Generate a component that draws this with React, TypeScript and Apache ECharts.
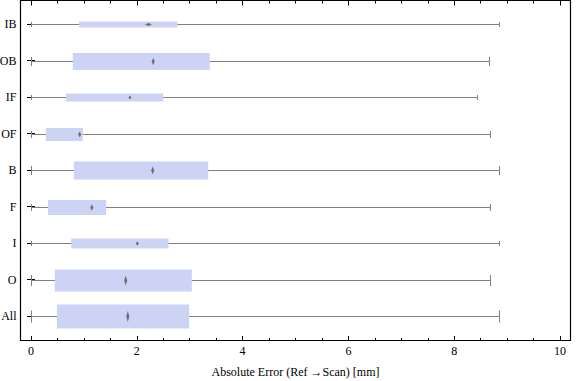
import React, { useEffect, useRef } from "react";
import * as echarts from "echarts";

// bottom-to-top order
const categories = ["All", "O", "I", "F", "B", "OF", "IF", "OB", "IB"];
const minVals = [0, 0, 0, 0, 0, 0, 0, 0, 0];
const q1Vals = [0.49, 0.45, 0.76, 0.32, 0.81, 0.28, 0.66, 0.79, 0.91];
const medVals = [1.83, 1.79, 2.01, 1.15, 2.3, 0.92, 1.87, 2.31, 2.22];
const q3Vals = [2.99, 3.04, 2.6, 1.42, 3.35, 0.98, 2.5, 3.38, 2.77];
const maxVals = [8.85, 8.68, 8.85, 8.68, 8.85, 8.68, 8.44, 8.65, 8.85];
// relative box thickness (fraction of category band)
const boxWeights = [0.66, 0.6, 0.27, 0.41, 0.49, 0.36, 0.22, 0.47, 0.16];
const xTicks = [0, 2, 4, 6, 8, 10];

const FONT = "'Liberation Serif', 'Times New Roman', serif";

export default function App() {
  const ref = useRef<HTMLDivElement>(null);
  useEffect(() => {
    if (!ref.current) return;
    const chart = echarts.init(ref.current, null, { renderer: "svg" });
    const data = categories.map((c, i) => [
      i,
      minVals[i],
      q1Vals[i],
      medVals[i],
      q3Vals[i],
      maxVals[i],
      boxWeights[i],
    ]);
    const gray = "#808080";
    const renderItem = (params: any, api: any) => {
      const ci = api.value(0);
      const yc = Math.round(api.coord([0, ci])[1]);
      const band = api.size([0, 1])[1];
      const h = api.value(6) * band;
      const xMin = api.coord([api.value(1), ci])[0];
      const xQ1 = api.coord([api.value(2), ci])[0];
      const xMed = api.coord([api.value(3), ci])[0];
      const xQ3 = api.coord([api.value(4), ci])[0];
      const xMax = api.coord([api.value(5), ci])[0];
      const capH = Math.max(5, Math.round(h * 0.5));
      const ly = yc + 0.5;
      let mw = 3;
      let mh = Math.max(4, h * 0.45);
      if (h <= 7) {
        mw = 7;
        mh = 3;
      }
      const cx1 = Math.round(xMin) + 0.5;
      const cx2 = Math.round(xMax) + 0.5;
      return {
        type: "group",
        children: [
          {
            type: "line",
            shape: { x1: cx1, y1: ly, x2: cx2, y2: ly },
            style: { stroke: gray, lineWidth: 1 },
          },
          {
            type: "line",
            shape: { x1: cx1, y1: ly - capH / 2, x2: cx1, y2: ly + capH / 2 },
            style: { stroke: gray, lineWidth: 1 },
          },
          {
            type: "line",
            shape: { x1: cx2, y1: ly - capH / 2, x2: cx2, y2: ly + capH / 2 },
            style: { stroke: gray, lineWidth: 1 },
          },
          {
            type: "rect",
            shape: { x: xQ1, y: ly - h / 2, width: xQ3 - xQ1, height: h },
            style: { fill: "#ccd3f5" },
          },
          {
            type: "polygon",
            shape: {
              points: [
                [xMed, ly - mh / 2],
                [xMed + mw / 2, ly],
                [xMed, ly + mh / 2],
                [xMed - mw / 2, ly],
              ],
            },
            style: { fill: "#6e6e6e" },
          },
        ],
      };
    };

    chart.setOption({
      animation: false,
      grid: {
        left: 31,
        right: 16,
        top: 5.75,
        bottom: 46.75,
        containLabel: false,
        outerBoundsMode: "none",
      },
      xAxis: [
        {
          type: "value",
          position: "bottom",
          min: xTicks[0],
          max: xTicks[xTicks.length - 1],
          interval: 2,
          offset: 6.75,
          axisLine: { show: false },
          axisTick: { show: true, inside: true, length: 5, lineStyle: { color: "#000" } },
          minorTick: { show: true, splitNumber: 4, length: 3, lineStyle: { color: "#000" } },
          splitLine: { show: false },
          axisLabel: { margin: 4, color: "#000", fontFamily: FONT, fontSize: 12 },
          name: "Absolute Error (Ref \u2192Scan) [mm]",
          nameLocation: "middle",
          nameGap: 25,
          nameTextStyle: { color: "#000", fontFamily: FONT, fontSize: 12 },
        },
        {
          type: "value",
          position: "top",
          min: xTicks[0],
          max: xTicks[xTicks.length - 1],
          interval: 2,
          offset: 5.25,
          axisLine: { show: false },
          axisTick: { show: true, inside: true, length: 5, lineStyle: { color: "#000" } },
          minorTick: { show: true, splitNumber: 4, length: 3, lineStyle: { color: "#000" } },
          splitLine: { show: false },
          axisLabel: { show: false },
        },
      ],
      yAxis: [
        {
          type: "category",
          position: "left",
          data: categories,
          offset: 10.5,
          axisLine: { show: false },
          axisTick: { show: true, inside: true, alignWithLabel: true, length: 4, lineStyle: { color: "#000" } },
          axisLabel: { margin: 4, color: "#000", fontFamily: FONT, fontSize: 12 },
          splitLine: { show: false },
        },
        {
          type: "category",
          position: "right",
          data: categories,
          offset: 10.5,
          axisLine: { show: false },
          axisTick: { show: true, inside: true, alignWithLabel: true, length: 4, lineStyle: { color: "#000" } },
          axisLabel: { show: false },
          splitLine: { show: false },
        },
      ],
      graphic: [
        {
          type: "rect",
          shape: { x: 20.5, y: 0.5, width: 550, height: 340 },
          style: { fill: "none", stroke: "#000", lineWidth: 1.2 },
          silent: true,
          z: 100,
        },
      ],
      series: [
        {
          type: "custom",
          xAxisIndex: 0,
          yAxisIndex: 0,
          clip: false,
          renderItem,
          encode: { x: [1, 2, 3, 4, 5], y: 0 },
          data,
        },
      ],
    });
    return () => chart.dispose();
  }, []);
  return (
    <div
      ref={ref}
      style={{ position: "fixed", left: 0, top: 0, width: 576, height: 381, background: "#fff" }}
    />
  );
}
